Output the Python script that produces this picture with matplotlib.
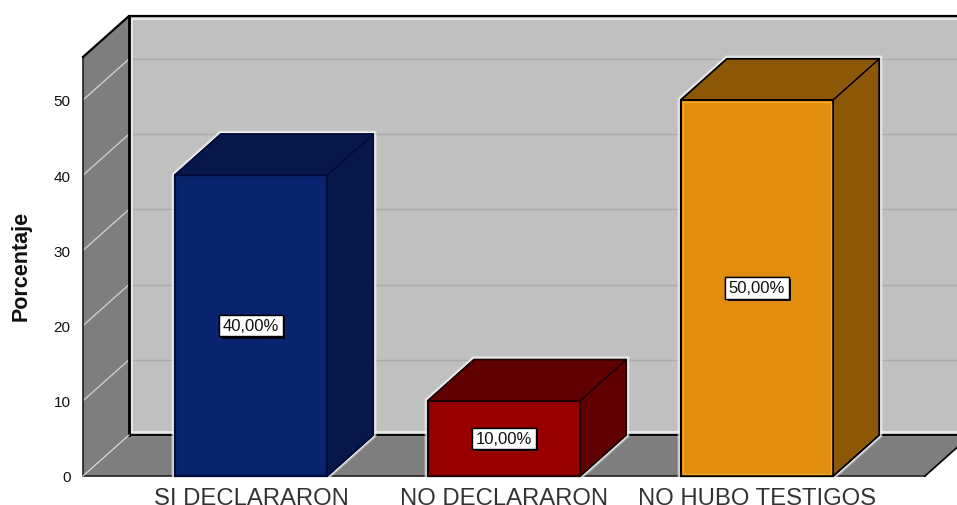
"""
Bar chart with fake 3D depth, SPSS style.
"""
import matplotlib
matplotlib.use('Agg')
import matplotlib.pyplot as plt
import matplotlib.patheffects as pe
from matplotlib.patches import Polygon

plt.rcParams['font.family'] = ['Liberation Sans', 'DejaVu Sans']

categories = ['SI DECLARARON', 'NO DECLARARON', 'NO HUBO TESTIGOS']
values = [40, 10, 50]
labels = ['40,00%', '10,00%', '50,00%']
front_colors = ['#0A2470', '#990000', '#E28C10']
dark_colors = ['#06174A', '#610000', '#8C5807']
edge_colors = ['#000B3C', '#1A0000', '#000000']
inner_colors = ['#082060', '#8A0000', '#F5A828']
yticks = [0, 10, 20, 30, 40, 50]

W, H = 957, 506
fig = plt.figure(figsize=(W / 100, H / 100), dpi=100)
# front plane of the box, in pixels: x 83-925, y 58-477
ax = fig.add_axes([83 / W, 1 - 477 / H, (925 - 83) / W, (477 - 58) / H])
ax.set_xlim(-(251 - 83) / 253, (925 - 251) / 253)
ax.set_ylim(0, (477 - 58) / 7.52)
ax.patch.set_visible(False)
for s in ax.spines.values():
    s.set_visible(False)

xl, xr = ax.get_xlim()
ytop = ax.get_ylim()[1]
dx = 46 / 253   # depth offset
dy = 41 / 7.52
hw = 76 / 253   # half bar width


def poly(pts, color, edge='none', lw=0, z=1, glow=False):
    p = Polygon(pts, closed=True, facecolor=color, edgecolor=edge, linewidth=lw,
                zorder=z, clip_on=False, joinstyle='miter')
    if glow:
        # soft white halo, built from a few see through strokes
        p.set_path_effects([pe.withStroke(linewidth=5.5, foreground='white', alpha=0.25),
                            pe.withStroke(linewidth=4.2, foreground='white', alpha=0.45),
                            pe.withStroke(linewidth=3.0, foreground='white', alpha=0.8)])
    ax.add_patch(p)
    return p


# walls and floor
poly([(xl + dx, dy), (xr + dx, dy), (xr + dx, ytop + dy), (xl + dx, ytop + dy)], '#C0C0C0', z=1)
poly([(xl, 0), (xl + dx, dy), (xl + dx, ytop + dy), (xl, ytop)], '#7E7E7E', z=1.1)
poly([(xl, 0), (xr, 0), (xr + dx, dy), (xl + dx, dy)], '#7E7E7E', z=1.1)

for t in yticks:
    ax.plot([xl + dx, xr + dx], [t + dy, t + dy], color='#ABABAB', lw=1.0, zorder=1.2, clip_on=False)
    if t > 0:
        ax.plot([xl, xl + dx], [t, t + dy], color='#CDCDCD', lw=1.0, zorder=1.2, clip_on=False)

# white inner bevel of back wall
ax.plot([xl + dx + 0.013, xl + dx + 0.013, xr + dx], [dy + 0.45, ytop + dy - 0.45, ytop + dy - 0.45],
        color='#F0F0F0', lw=1.2, zorder=1.3, clip_on=False)
ax.plot([xl + dx + 0.013, xr + dx], [dy + 0.45, dy + 0.45], color='#F0F0F0', lw=1.2, zorder=1.3, clip_on=False)

# box outline
ax.plot([xl, xl, xr], [ytop, 0, 0], color='#202020', lw=1.2, zorder=1.5, clip_on=False)
ax.plot([xl, xl + dx, xr + dx], [ytop, ytop + dy, ytop + dy], color='black', lw=1.6, zorder=1.5, clip_on=False)
ax.plot([xl + dx, xl + dx], [dy, ytop + dy], color='black', lw=2, zorder=1.5, clip_on=False)
ax.plot([xl + dx, xr + dx], [dy, dy], color='black', lw=1.4, zorder=1.5, clip_on=False)
ax.plot([xl, xl + dx], [0, dy], color='#E0E0E0', lw=0.8, zorder=1.5, clip_on=False)
ax.plot([xr, xr + dx], [0, dy], color='black', lw=1.2, zorder=1.5, clip_on=False)

# bars
for i, v in enumerate(values):
    l, r = i - hw, i + hw
    edge = edge_colors[i]
    z = 2 + i
    outline = [(l, 0), (l, v), (l + dx, v + dy), (r + dx, v + dy), (r + dx, dy), (r, 0)]
    poly(outline, dark_colors[i], edge=edge, lw=1.6, z=z, glow=True)
    poly([(r, 0), (r, v), (r + dx, v + dy), (r + dx, dy)], dark_colors[i], edge=edge, lw=1.0, z=z + 0.1)
    poly([(l, v), (l + dx, v + dy), (r + dx, v + dy), (r, v)], dark_colors[i], edge=edge, lw=1.0, z=z + 0.1)
    poly([(l, 0), (l, v), (r, v), (r, 0)], front_colors[i], edge=edge, lw=1.4, z=z + 0.2)
    # thin lighter rim just inside the front face
    inset_x, inset_y = 0.008, 0.28
    poly([(l + inset_x, inset_y), (l + inset_x, v - inset_y), (r - inset_x, v - inset_y), (r - inset_x, inset_y)],
         'none', edge=inner_colors[i], lw=1.0, z=z + 0.3)
    ax.text(i, v / 2, labels[i], ha='center', va='center', fontsize=12, color='#111111', zorder=z + 0.4,
            bbox=dict(boxstyle='square,pad=0.2', facecolor='white', edgecolor='black', linewidth=1.0,
                      path_effects=[pe.withSimplePatchShadow(offset=(1.5, -1.5), shadow_rgbFace='black', alpha=0.9),
                                    pe.Normal()]))

ax.set_xticks(range(len(categories)))
ax.set_xticklabels(categories, fontsize=17.2, color='#333333')
ax.set_yticks(yticks)
ax.set_yticklabels([str(t) for t in yticks], fontsize=11, color='#111111')
ax.tick_params(axis='both', length=0)
ax.tick_params(axis='x', pad=8)
ax.tick_params(axis='y', pad=9)
fig.text(21 / W, 1 - 266 / H, 'Porcentaje', rotation=90, ha='center', va='center',
         fontsize=15.5, fontweight='bold', color='#111111')

fig.savefig('out.png', dpi=100, facecolor='white')
